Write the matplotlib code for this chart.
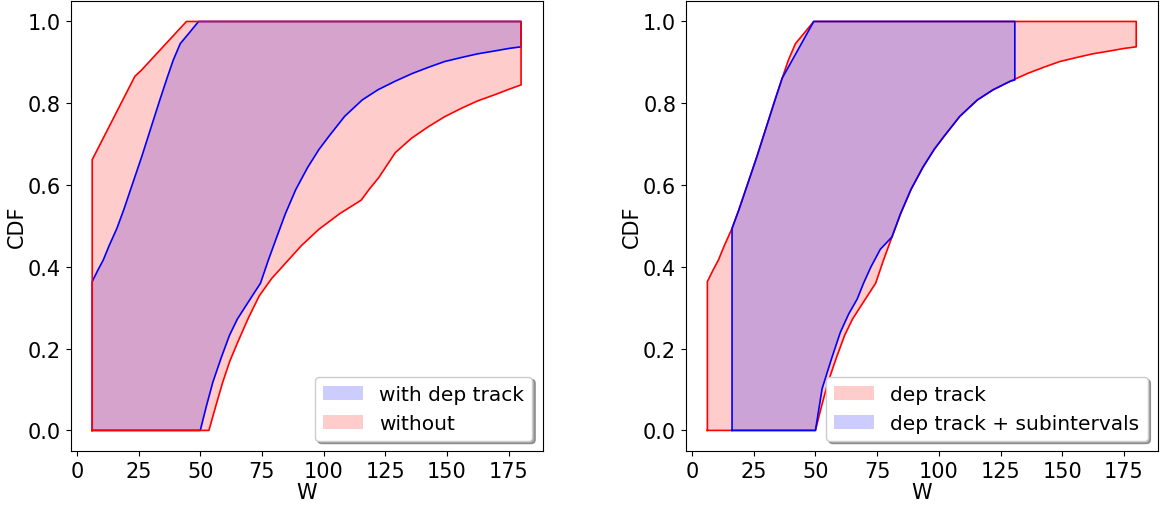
import matplotlib
matplotlib.use("Agg")
import matplotlib.pyplot as plt
import numpy as np

# p-box bounds, (W, CDF)
W_MIN, W_MAX = 6.2, 180.0

# "with dep track" (left, blue) == "dep track" (right, red)
dep_upper_w = [W_MIN, 8.5, 10.7, 13.0, 16.2, 19.0, 22.2, 26.3, 30.0, 33.6, 36.5, 39.0, 41.9,
               45.5, 49.3, W_MAX]
dep_upper_p = [0.364, 0.392, 0.417, 0.451, 0.494, 0.540, 0.597, 0.670, 0.740, 0.808, 0.861,
               0.905, 0.946, 0.972, 1.0, 1.0]
dep_lower_w = [50.0, 52.5, 55.1, 58.5, 61.8, 65.0, 68.5, 71.5, 74.4, 77.5, 81.0, 84.5, 88.7,
               93.5, 98.1, 102.1, 108.5, 115.6, 122.0, 129.0, 136.0, 142.5, 149.0, 155.9,
               162.5, 169.4, 175.0, W_MAX]
dep_lower_p = [0.0, 0.060, 0.118, 0.178, 0.232, 0.272, 0.305, 0.333, 0.360, 0.415, 0.473,
               0.530, 0.589, 0.643, 0.687, 0.719, 0.768, 0.808, 0.833, 0.854, 0.873, 0.888,
               0.902, 0.912, 0.921, 0.928, 0.934, 0.938]

# "without" (left, red)
wo_upper_w = [W_MIN, 23.5, 26.0, 44.4, W_MAX]
wo_upper_p = [0.662, 0.866, 0.880, 1.0, 1.0]
wo_lower_w = [53.5, 56.3, 59.1, 62.0, 65.2, 69.5, 73.9, 79.0, 84.7, 91.0, 98.1, 106.5, 115.2,
              118.5, 122.3, 129.0, 135.5, 142.5, 149.0, 155.9, 162.5, 169.4, 175.0, W_MAX]
wo_lower_p = [0.0, 0.060, 0.118, 0.170, 0.216, 0.275, 0.329, 0.372, 0.410, 0.452, 0.492,
              0.530, 0.563, 0.590, 0.618, 0.679, 0.714, 0.743, 0.767, 0.788, 0.806, 0.821,
              0.834, 0.845]

# "dep track + subintervals" (right, blue)
sub_w0, sub_w1 = 16.2, 130.8
sub_upper_w = [sub_w0, 19.0, 22.2, 26.3, 30.0, 33.6, 36.5, 49.3, sub_w1]
sub_upper_p = [0.494, 0.540, 0.597, 0.670, 0.740, 0.808, 0.861, 1.0, 1.0]
sub_lower_w = [50.0, 52.7, 56.5, 60.1, 63.5, 66.9, 69.5, 72.5, 76.3, 81.0, 84.5, 88.7, 93.5,
               98.1, 102.1, 108.5, 115.6, 122.0, 129.0, sub_w1]
sub_lower_p = [0.0, 0.102, 0.175, 0.240, 0.285, 0.321, 0.360, 0.400, 0.443, 0.473, 0.530,
               0.589, 0.643, 0.687, 0.719, 0.768, 0.808, 0.833, 0.854, 0.857]


def draw_pbox(ax, uw, up, lw, lp, w0, color, label):
    # closed outline: up the left edge, along upper, down right edge, back along lower
    xs = np.array([w0] + list(uw) + list(lw[::-1]) + [w0])
    ys = np.array([0.0] + list(up) + list(lp[::-1]) + [0.0])
    ax.fill(xs, ys, facecolor=color, alpha=0.2, edgecolor="none", label=label)
    ax.plot(xs, ys, color=color, lw=1.2)


plt.rcParams["font.size"] = 15

fig, (ax1, ax2) = plt.subplots(1, 2, figsize=(11.6, 5.06), dpi=100)
fig.subplots_adjust(left=0.061, right=0.998, top=0.996, bottom=0.107, wspace=0.304)

draw_pbox(ax1, dep_upper_w, dep_upper_p, dep_lower_w, dep_lower_p, W_MIN,
          "blue", "with dep track")
draw_pbox(ax1, wo_upper_w, wo_upper_p, wo_lower_w, wo_lower_p, W_MIN,
          "red", "without")

draw_pbox(ax2, dep_upper_w, dep_upper_p, dep_lower_w, dep_lower_p, W_MIN,
          "red", "dep track")
draw_pbox(ax2, sub_upper_w, sub_upper_p, sub_lower_w, sub_lower_p, sub_w0,
          "blue", "dep track + subintervals")

for ax in (ax1, ax2):
    ax.set_xlabel("W", labelpad=1)
    ax.set_ylabel("CDF", labelpad=1)
    ax.set_xticks([0, 25, 50, 75, 100, 125, 150, 175])
    ax.legend(loc="lower right", shadow=True, fancybox=True, fontsize=14.5)

fig.savefig("out.png")
